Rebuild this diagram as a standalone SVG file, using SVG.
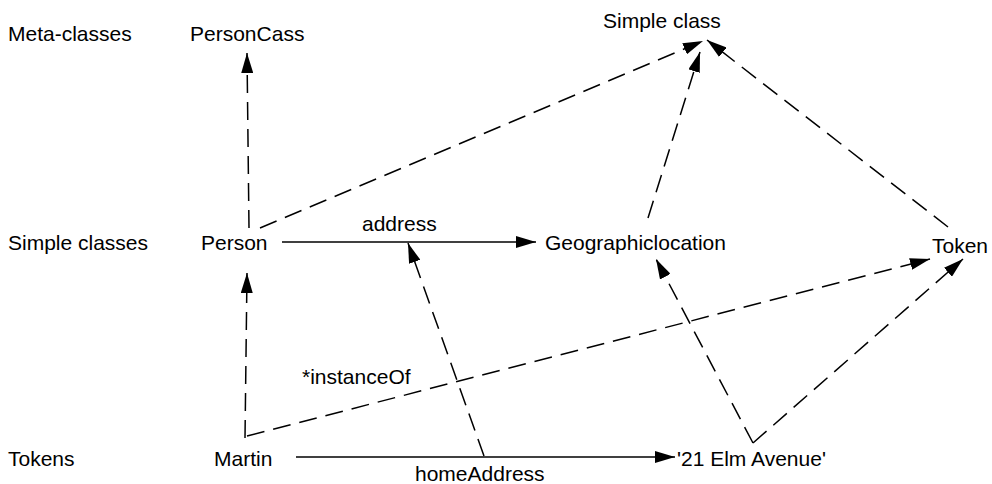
<svg xmlns="http://www.w3.org/2000/svg" width="992" height="484" viewBox="0 0 992 484">
<style>
text{font-family:"Liberation Sans",Arial,sans-serif;font-size:21px;fill:#000}
.c{fill:none;stroke:#000;stroke-width:1.5}
.d{stroke-dasharray:18 9}
</style>
<defs>
<marker id="ah" markerUnits="userSpaceOnUse" markerWidth="20" markerHeight="12" refX="20" refY="6" orient="auto">
<path d="M0,0 L20,6 L0,12 z" fill="#000"/>
</marker>
</defs>
<rect width="992" height="484" fill="#fff"/>
<g id="labels">
<text x="8" y="41">Meta-classes</text>
<text x="8" y="250">Simple classes</text>
<text x="8" y="466">Tokens</text>
</g>
<g id="personcass"><text x="190" y="41">PersonCass</text></g>
<g id="simpleclass"><text x="603" y="28">Simple class</text></g>
<g id="person"><text x="201" y="250">Person</text></g>
<g id="geo"><text x="545" y="250">Geographiclocation</text></g>
<g id="token"><text x="932" y="253">Token</text></g>
<g id="martin"><text x="214" y="466">Martin</text></g>
<g id="elm"><text x="677" y="466">'21 Elm Avenue'</text></g>
<g id="connectors">
<line class="c d" x1="249" y1="228" x2="247" y2="53" marker-end="url(#ah)"/>
<line class="c d" x1="260" y1="228" x2="703" y2="41" marker-end="url(#ah)"/>
<line class="c d" x1="648" y1="218" x2="700" y2="52" marker-end="url(#ah)"/>
<line class="c d" x1="948" y1="227" x2="707" y2="40" marker-end="url(#ah)"/>
<line class="c" x1="282" y1="242" x2="536" y2="242" marker-end="url(#ah)"/>
<line class="c d" x1="245" y1="438" x2="247" y2="273" marker-end="url(#ah)"/>
<line class="c d" x1="484" y1="456" x2="408" y2="243" marker-end="url(#ah)"/>
<line class="c d" x1="247" y1="436" x2="930" y2="259" marker-end="url(#ah)"/>
<line class="c d" x1="753" y1="443" x2="656" y2="259" marker-end="url(#ah)"/>
<line class="c d" x1="753" y1="443" x2="963" y2="259" marker-end="url(#ah)"/>
<line class="c" x1="296" y1="457" x2="675" y2="457" marker-end="url(#ah)"/>
<text x="362" y="231">address</text>
<text x="302" y="384">*instanceOf</text>
<text x="415" y="481">homeAddress</text>
</g>
</svg>
